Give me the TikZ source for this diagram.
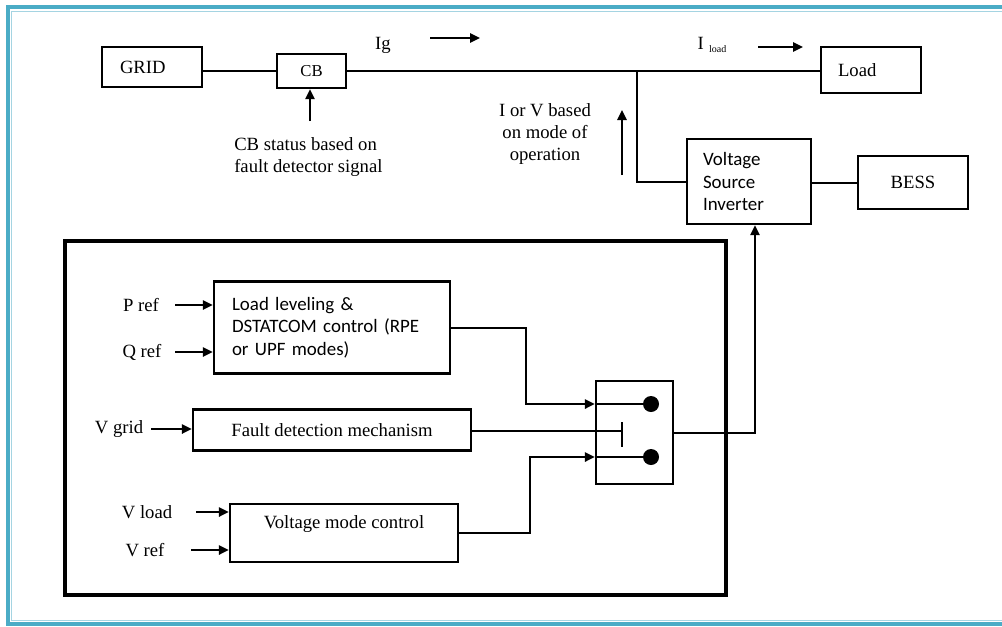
\documentclass[tikz,border=0pt]{standalone}
\usepackage{fontspec}
\setmainfont{Liberation Serif}
\newfontfamily\boxfont{Carlito}
\usepackage{tikz}
\usetikzlibrary{arrows.meta, positioning, calc}

\definecolor{frameblue}{RGB}{75,172,198}
\definecolor{framelight}{RGB}{165,212,226}

\tikzset{
  blk/.style={draw, line width=1.8pt, inner sep=0pt, font=\fontsize{14}{16.5}\selectfont},
  cbox/.style={blk, font=\boxfont\fontsize{14.2}{17}\selectfont, align=left},
  conn/.style={line width=1.5pt},
  arr/.style={conn, -{Triangle[length=7.5pt,width=7pt]}},
  lbl/.style={inner sep=0pt, font=\fontsize{14}{16.5}\selectfont},
  dot/.style={circle, fill, inner sep=0pt, minimum size=12pt},
}

\begin{document}
\begin{tikzpicture}[x=0.75pt, y=-0.75pt]
    \clip (0,0) rectangle (1002,626);
    \fill[white] (0,0) rectangle (1002,626);
    \draw[frameblue, line width=3pt] (7.5,7) rectangle (1040,624);
    \draw[framelight, line width=1.3pt] (11.5,11.5) rectangle (1040,620.5);

    % power side
    \node[blk, minimum width=75pt, minimum height=30pt, text width=48pt, align=left] (grid) at (152,67) {GRID};
    \node[blk, minimum width=51.75pt, minimum height=25.5pt, font=\fontsize{12.5}{15}\selectfont] (cb) at (311.5,71) {CB};
    \node[blk, minimum width=75pt, minimum height=34.5pt, text width=49.5pt, align=left] (load) at (871,70) {Load};
    \node[cbox, minimum width=93pt, minimum height=63.75pt, text width=69pt] (vsi) at (749,181.5) {Voltage\\Source\\Inverter};
    \node[blk, minimum width=82.5pt, minimum height=39.75pt] (bess) at (913,182.5) {BESS};
    \coordinate (jn) at (637,71);
    \draw[conn] (grid.east |- cb.west) -- (cb.west);
    \draw[conn] (cb.east) -- (cb.east -| load.west);
    \draw[conn] (jn) |- (vsi.west);
    \draw[conn] (vsi.east |- bess.west) -- (bess.west);

    \coordinate (cbin) at (310,121);
    \draw[arr] (cbin) -- (cbin |- cb.south);
    \node[lbl, align=left, anchor=west] (cbnote) at (234,157) {CB status based on\\fault detector signal};
    \node[lbl] (ig) at (383,45) {Ig};
    \coordinate (ig1) at (430,38);
    \coordinate (ig2) at (480,38);
    \draw[arr] (ig1) -- (ig2);
    \node[lbl] (iload) at (712,45) {I\hspace{4pt}\raisebox{-2pt}{\fontsize{7.5}{8}\selectfont load}};
    \coordinate (il1) at (758,47);
    \coordinate (il2) at (803,47);
    \draw[arr] (il1) -- (il2);
    \node[lbl, align=center] (mode) at (545,134) {I or V based\\on mode of\\operation};
    \coordinate (md1) at (622,175);
    \coordinate (md2) at (622,110);
    \draw[arr] (md1) -- (md2);

    % controller
    \draw[line width=3pt] (65,241) rectangle (726,595);
    \node[cbox, minimum width=177pt, minimum height=69pt, text width=150pt] (lvl) at (332,327.5) {Load leveling \&\\DSTATCOM control (RPE\\or UPF modes)};
    \node[blk, minimum width=208.5pt, minimum height=30.75pt] (fd) at (332,430) {Fault detection mechanism};
    \node[blk, minimum width=171pt, minimum height=43.5pt, label={[lbl, yshift=6.75pt]center:Voltage mode control}] (vmc) at (344,533) {};
    \node[draw, line width=1.8pt, inner sep=0pt, minimum width=57.75pt, minimum height=77.25pt] (sw) at (634.5,432.5) {};
    \node[dot] (d1) at (651,404) {};
    \node[dot] (d2) at (651,457) {};

    \node[lbl] (pref) at (141,305) {P ref};
    \node[lbl] (qref) at (142,352) {Q ref};
    \node[lbl] (vgrid) at (119,429) {V grid};
    \node[lbl] (vload) at (147,512) {V load};
    \node[lbl] (vref) at (145,550) {V ref};
    \draw[arr] ([xshift=12pt]pref.east) -- (pref.east -| lvl.west);
    \draw[arr] ([xshift=10pt]qref.east) -- (qref.east -| lvl.west);
    \draw[arr] ([xshift=6pt]vgrid.east) -- (vgrid.east -| fd.west);
    \draw[arr] ([xshift=18pt]vload.east) -- (vload.east -| vmc.west);
    \draw[arr] ([xshift=20pt]vref.east) -- (vref.east -| vmc.west);

    \coordinate (s1) at (sw.west |- d1);
    \coordinate (s2) at (sw.west |- d2);
    \coordinate (k1) at (526,404);
    \coordinate (k2) at (530,457);
    \coordinate (tb) at (622,431);
    \draw[arr] (lvl.east) -| (k1) -- (s1);
    \draw[conn] (s1) -- (d1);
    \draw[arr] (vmc.east) -| (k2) -- (s2);
    \draw[conn] (s2) -- (d2);
    \draw[conn] (fd.east |- tb) -- (tb);
    \draw[conn] ([yshift=6.75pt]tb) -- ([yshift=-12pt]tb);
    \draw[arr] (sw.east) -| ([xshift=4.5pt]vsi.south);
\end{tikzpicture}
\end{document}
